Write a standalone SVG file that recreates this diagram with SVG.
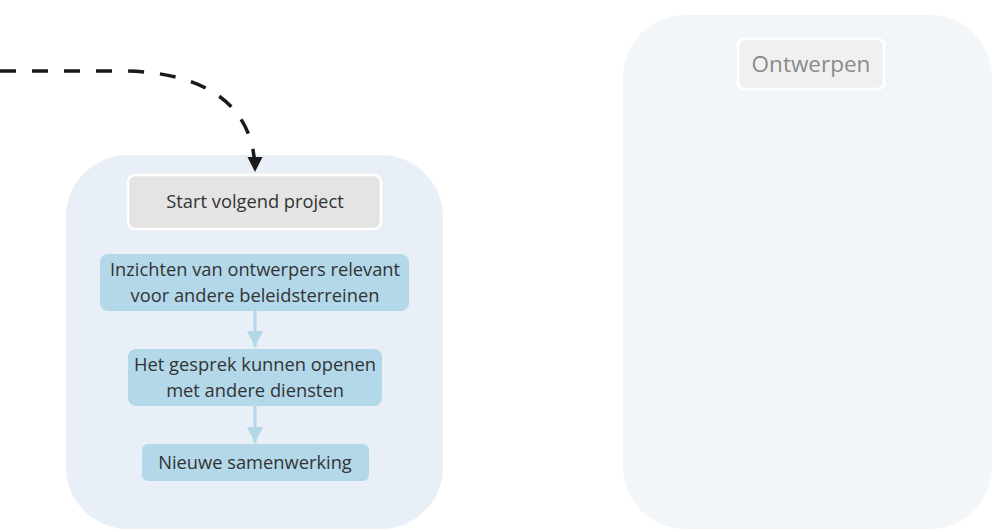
<svg xmlns="http://www.w3.org/2000/svg" width="993" height="529" viewBox="0 0 993 529">
  <defs>
    <style>
      text { font-family: "Open Sans", "Noto Sans", sans-serif; font-size: 18.3px; text-anchor: middle; fill: #333; }
      .panel-a { fill: #e9eff6; }
      .panel-b { fill: #f3f6f9; }
      .start { fill: #e4e4e4; stroke: #ffffff; stroke-width: 2.5; }
      .ghost { fill: #f0f0f0; stroke: #ffffff; stroke-width: 2.5; }
      .ghost-text { fill: #8a8a8a; font-size: 22.5px; }
      .step { fill: #b3d8ea; }
      .flow { stroke: #b3d8ea; stroke-width: 3; fill: none; }
      .jump { stroke: #1a1a1a; stroke-width: 3.5; fill: none; stroke-dasharray: 16 16; }
    </style>
    <marker id="headDark" viewBox="0 0 10 10" refX="10" refY="5" markerWidth="4.4" markerHeight="4.6" markerUnits="strokeWidth" orient="auto">
      <path d="M0,0 L10,5 L0,10 z" fill="#1a1a1a"/>
    </marker>
    <marker id="headBlue" viewBox="0 0 10 10" refX="10" refY="5" markerWidth="5.5" markerHeight="5.5" markerUnits="strokeWidth" orient="auto">
      <path d="M0,0 L10,5 L0,10 z" fill="#b3d8ea"/>
    </marker>
  </defs>

  <!-- background panels -->
  <g id="panel-follow-up">
    <rect class="panel-a" x="66" y="155" width="377" height="374" rx="62"/>
  </g>
  <g id="panel-design">
    <rect class="panel-b" x="623" y="15" width="369" height="514" rx="62"/>
  </g>

  <!-- connectors -->
  <g id="connectors">
    <path class="jump" d="M0,71 L120,71 C205,71 255,105 255,172" marker-end="url(#headDark)"/>
    <line class="flow" x1="255" y1="311" x2="255" y2="347" marker-end="url(#headBlue)"/>
    <line class="flow" x1="255" y1="406" x2="255" y2="443" marker-end="url(#headBlue)"/>
  </g>

  <!-- nodes -->
  <g id="node-ontwerpen">
    <rect class="ghost" x="738" y="39" width="146" height="50" rx="6"/>
    <text class="ghost-text" x="811" y="72">Ontwerpen</text>
  </g>
  <g id="node-start">
    <rect class="start" x="128" y="175" width="253" height="54" rx="7"/>
    <text x="255" y="208">Start volgend project</text>
  </g>
  <g id="node-inzichten">
    <rect class="step" x="100" y="254" width="309" height="57" rx="8"/>
    <text x="255" y="276">Inzichten van ontwerpers relevant</text>
    <text x="255" y="302">voor andere beleidsterreinen</text>
  </g>
  <g id="node-gesprek">
    <rect class="step" x="128" y="349" width="254" height="57" rx="8"/>
    <text x="255" y="371">Het gesprek kunnen openen</text>
    <text x="255" y="397">met andere diensten</text>
  </g>
  <g id="node-samenwerking">
    <rect class="step" x="142" y="444" width="227" height="37" rx="6"/>
    <text x="255" y="469">Nieuwe samenwerking</text>
  </g>
</svg>
